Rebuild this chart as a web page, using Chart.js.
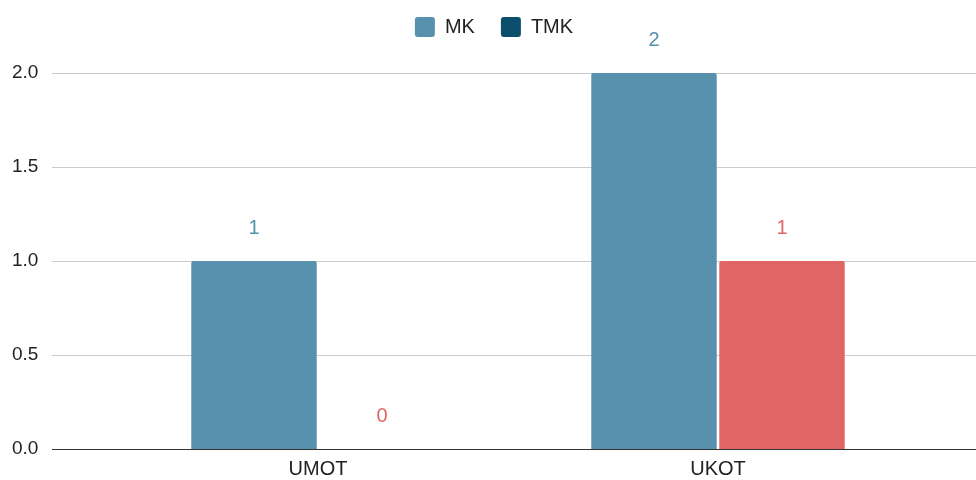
<!DOCTYPE html>
<html>
<head>
<meta charset="utf-8">
<script src="https://cdn.jsdelivr.net/npm/chart.js@4.4.1/dist/chart.umd.min.js"></script>
<style>
  html, body { margin: 0; padding: 0; background: #fff; overflow: hidden; }
  canvas { display: block; }
</style>
</head>
<body>
<canvas id="grafico" width="976" height="480"></canvas>
<script>
// dados
const categorias = ['UMOT', 'UKOT'];
const valoresMK = [1, 2];
const valoresTMK = [0, 1];
const nomesSeries = ['MK', 'TMK'];
const marcasY = [0, 0.5, 1, 1.5, 2];

const corMK = '#5891ad';
const corTMK = '#e06666';
const corLegendaTMK = '#0b4f6c';
const fonte = '"Liberation Sans", Arial, sans-serif';

// linhas de grade largas (passam da area do grafico, como no original)
const gradePlugin = {
  id: 'grade',
  beforeDatasetsDraw(chart) {
    const ctx = chart.ctx;
    const y = chart.scales.y;
    ctx.save();
    ctx.lineWidth = 1;
    ctx.strokeStyle = '#cccccc';
    y.ticks.forEach(t => {
      if (t.value === 0) return;
      const py = Math.round(y.getPixelForValue(t.value)) + 0.5;
      ctx.beginPath();
      ctx.moveTo(52, py);
      ctx.lineTo(976, py);
      ctx.stroke();
    });
    ctx.restore();
  },
  afterDatasetsDraw(chart) {
    const ctx = chart.ctx;
    const y = chart.scales.y;
    const py = Math.round(y.getPixelForValue(0)) + 0.5;
    ctx.save();
    ctx.strokeStyle = '#333333';
    ctx.lineWidth = 1;
    ctx.beginPath();
    ctx.moveTo(52, py);
    ctx.lineTo(976, py);
    ctx.stroke();
    ctx.restore();
  }
};

// rotulos de valor acima das barras
const rotulosPlugin = {
  id: 'rotulos',
  afterDatasetsDraw(chart) {
    const ctx = chart.ctx;
    ctx.save();
    ctx.font = '20px ' + fonte;
    ctx.textAlign = 'center';
    ctx.textBaseline = 'middle';
    chart.data.datasets.forEach((ds, i) => {
      const meta = chart.getDatasetMeta(i);
      ctx.fillStyle = ds.backgroundColor;
      meta.data.forEach((bar, j) => {
        ctx.fillText(String(ds.data[j]), bar.x, bar.y - 33);
      });
    });
    ctx.restore();
  }
};

// espaco extra abaixo da legenda
const legendaPlugin = {
  id: 'legendaEspaco',
  beforeInit(chart) {
    const fitOriginal = chart.legend.fit;
    chart.legend.fit = function () {
      fitOriginal.call(this);
      this.height += 26;
    };
  }
};

new Chart(document.getElementById('grafico'), {
  type: 'bar',
  data: {
    labels: categorias,
    datasets: [
      { label: nomesSeries[0], data: valoresMK, backgroundColor: corMK, borderRadius: 2, borderSkipped: 'bottom' },
      { label: nomesSeries[1], data: valoresTMK, backgroundColor: corTMK, borderRadius: 2, borderSkipped: 'bottom' }
    ]
  },
  options: {
    responsive: false,
    animation: false,
    categoryPercentage: 0.64,
    barPercentage: 0.98,
    layout: { padding: { left: 12, right: 0, top: -9, bottom: -9 } },
    plugins: {
      tooltip: { enabled: false },
      legend: {
        position: 'top',
        labels: {
          boxWidth: 20,
          boxHeight: 20,
          padding: 26,
          useBorderRadius: true,
          borderRadius: 3,
          color: '#222',
          font: { family: fonte, size: 20 },
          generateLabels(chart) {
            const itens = Chart.defaults.plugins.legend.labels.generateLabels(chart);
            const cores = [corMK, corLegendaTMK];
            itens.forEach((it, i) => {
              it.fillStyle = cores[i];
              it.strokeStyle = cores[i];
              it.lineWidth = 0;
              it.borderRadius = 3;
            });
            return itens;
          }
        }
      }
    },
    scales: {
      x: {
        grid: { display: false, drawTicks: false },
        border: { display: false },
        ticks: { color: '#222', padding: 9, font: { family: fonte, size: 20, lineHeight: 1.1 } }
      },
      y: {
        min: 0,
        max: 2,
        afterFit(s) { s.width = 106; },
        afterBuildTicks(s) { s.ticks = marcasY.map(v => ({ value: v })); },
        grid: { display: false, drawTicks: false },
        border: { display: false },
        ticks: {
          color: '#222',
          padding: 4,
          crossAlign: 'far',
          font: { family: fonte, size: 19 },
          callback: v => v.toFixed(1)
        }
      },
      // eixo vazio a direita so para reservar espaco
      yDir: {
        position: 'right',
        afterFit(s) { s.width = 58; },
        grid: { display: false, drawTicks: false },
        border: { display: false },
        ticks: { display: false }
      }
    }
  },
  plugins: [gradePlugin, rotulosPlugin, legendaPlugin]
});
</script>
</body>
</html>
